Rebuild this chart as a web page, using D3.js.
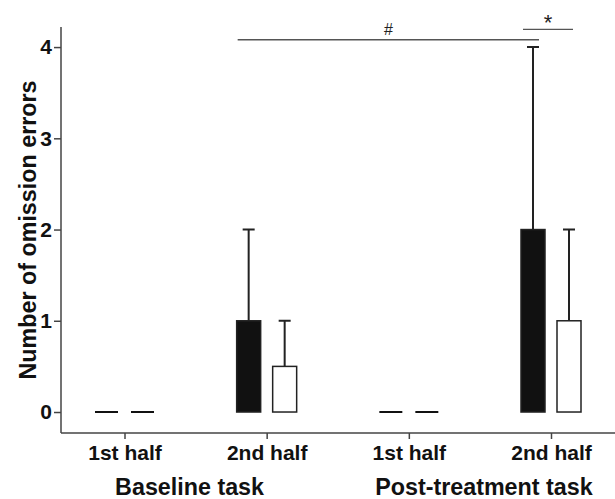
<!DOCTYPE html>
<html>
<head>
<meta charset="utf-8">
<script src="https://cdn.jsdelivr.net/npm/d3@7"></script>
<style>
  body { margin: 0; background: #fff; }
  text { font-family: "Liberation Sans", Arial, sans-serif; }
</style>
</head>
<body>
<div id="chart"></div>
<script>
var categories = ["b1", "b2", "p1", "p2"];
var tickLabels = ["1st half", "2nd half", "1st half", "2nd half"];
var groupLabels = ["Baseline task", "Post-treatment task"];
var blackMeans = [0, 1, 0, 2];
var blackUpper = [0, 2, 0, 4];
var whiteMeans = [0, 0.5, 0, 1];
var whiteUpper = [0, 1, 0, 2];
var yTicks = [0, 1, 2, 3, 4];

var width = 615, height = 499;
var svg = d3.select("#chart").append("svg")
  .attr("width", width)
  .attr("height", height);

var axisLeft = 61, axisBottom = 433;

var x = d3.scalePoint().domain(categories).range([124.5, 551]);
var y = d3.scaleLinear().domain([-0.23, 4.22]).range([433, 27]);

var barW = 24, off = 18;

// axes
var yAxis = svg.append("g")
  .attr("transform", "translate(" + axisLeft + ",0)")
  .call(d3.axisLeft(y).tickValues(yTicks).tickFormat(d3.format("d")).tickSize(7).tickPadding(2));
var xAxis = svg.append("g")
  .attr("transform", "translate(0," + axisBottom + ")")
  .call(d3.axisBottom(x).tickSize(6).tickPadding(6).tickFormat(function(d, i){ return tickLabels[i]; }));

yAxis.select(".domain").attr("d", "M0," + y.range()[1] + "V" + axisBottom);
xAxis.select(".domain").attr("d", "M" + axisLeft + ",0H" + width);

svg.selectAll(".domain, .tick line").attr("stroke", "#444").attr("stroke-width", 1.5);
yAxis.selectAll(".tick text").attr("font-size", 21).attr("font-weight", "bold").attr("fill", "#111");
xAxis.selectAll(".tick text").attr("font-size", 21).attr("font-weight", "bold").attr("fill", "#111");

// group labels
svg.selectAll(".group")
  .data(groupLabels)
  .enter().append("text")
  .attr("x", function(d, i){ return (x(categories[i*2]) + x(categories[i*2+1])) / 2 + (i == 0 ? -6 : 4); })
  .attr("y", 495)
  .attr("text-anchor", "middle")
  .attr("font-size", 23.3)
  .attr("font-weight", "bold")
  .attr("fill", "#111")
  .text(function(d){ return d; });

// y title
svg.append("text")
  .attr("transform", "translate(36,230) rotate(-90)")
  .attr("text-anchor", "middle")
  .attr("font-size", 23.3)
  .attr("font-weight", "bold")
  .attr("fill", "#111")
  .text("Number of omission errors");

var series = [
  {means: blackMeans, upper: blackUpper, dx: -off, fill: "#111"},
  {means: whiteMeans, upper: whiteUpper, dx: off, fill: "#fff"}
];

series.forEach(function(s){
  var g = svg.append("g");
  // error bars
  g.selectAll(".err")
    .data(categories.filter(function(c, i){ return s.upper[i] > s.means[i]; }))
    .enter().append("path")
    .attr("d", function(c){
      var i = categories.indexOf(c);
      var cx = x(c) + s.dx;
      return "M" + cx + "," + y(s.means[i]) + "V" + y(s.upper[i]) +
             "M" + (cx - 6) + "," + y(s.upper[i]) + "H" + (cx + 6);
    })
    .attr("stroke", "#222")
    .attr("stroke-width", 2)
    .attr("fill", "none");
  // bars
  g.selectAll(".bar")
    .data(categories.filter(function(c, i){ return s.means[i] > 0; }))
    .enter().append("rect")
    .attr("x", function(c){ return x(c) + s.dx - barW / 2; })
    .attr("width", barW)
    .attr("y", function(c){ return y(s.means[categories.indexOf(c)]); })
    .attr("height", function(c){ return y(0) - y(s.means[categories.indexOf(c)]); })
    .attr("fill", s.fill)
    .attr("stroke", "#222")
    .attr("stroke-width", 1.5);
  // zero-height bars drawn as flat lines
  g.selectAll(".zero")
    .data(categories.filter(function(c, i){ return s.means[i] == 0; }))
    .enter().append("line")
    .attr("x1", function(c){ return x(c) + s.dx - barW / 2 + 0.5; })
    .attr("x2", function(c){ return x(c) + s.dx + barW / 2 - 0.5; })
    .attr("y1", y(0)).attr("y2", y(0))
    .attr("stroke", "#111")
    .attr("stroke-width", 2);
});

// significance markers
var sig = [
  {from: x("b2") - off - 11, to: x("p2") - off + 6, level: 4.08, label: "#", size: 16, ty: -5},
  {from: x("p2") - off - 10, to: x("p2") + off + 4, level: 4.195, label: "*", size: 22, ty: 1},
];
sig.forEach(function(s){
  svg.append("line")
    .attr("x1", s.from).attr("x2", s.to)
    .attr("y1", y(s.level)).attr("y2", y(s.level))
    .attr("stroke", "#555").attr("stroke-width", 1.3);
  svg.append("text")
    .attr("x", (s.from + s.to) / 2)
    .attr("y", y(s.level) + s.ty)
    .attr("text-anchor", "middle")
    .attr("font-size", s.size)
    .attr("fill", "#222")
    .text(s.label);
});
</script>
</body>
</html>
